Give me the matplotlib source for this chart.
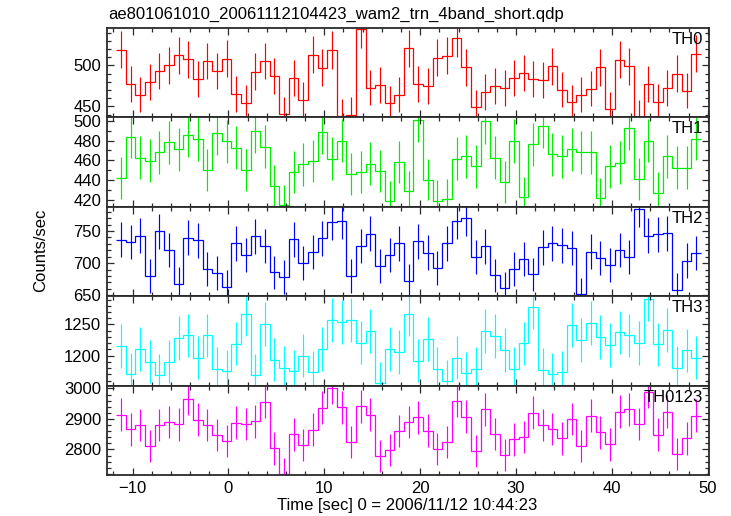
"""Stacked WAM light curves (TH0..TH3 and summed band), QDP-style."""
import matplotlib

matplotlib.use("Agg")
import matplotlib.pyplot as plt
import numpy as np
from matplotlib.ticker import MultipleLocator

TITLE = "ae801061010_20061112104423_wam2_trn_4band_short.qdp"
XLABEL = "Time [sec] 0 = 2006/11/12 10:44:23"
YLABEL = "Counts/sec"

# 1 s bins, first bin starts at t = -11.7 s
BIN_START = -11.7
BIN_WIDTH = 1.0

TH0 = [519.2, 477.5, 464.2, 479.6, 493.3, 500.0, 512.5, 507.5, 483.8, 505.4, 493.3,
       508.3, 465.0, 454.2, 492.5, 505.4, 487.5, 440.8, 484.6, 458.3, 512.9, 497.1,
       518.8, 438.3, 440.0, 544.2, 472.9, 475.8, 453.8, 464.2, 520.8,
       477.5, 475.0, 509.2, 511.7, 533.3, 497.5, 448.8, 467.5, 475.0, 472.5, 484.2,
       490.8, 483.3, 481.7, 498.8, 470.4, 455.0, 464.2, 471.7, 497.5, 446.7, 506.7,
       498.8, 437.1, 477.5, 455.8, 472.5, 490.0, 469.2, 514.2]
TH1 = [442.7, 484.0, 462.7, 459.7, 468.3, 478.0, 471.3, 485.7, 481.7, 450.3, 488.0,
       479.0, 472.7, 450.3, 489.3, 473.7, 434.7, 415.3, 448.7, 456.0, 459.3, 488.3,
       461.7, 480.0, 446.0, 448.7, 456.7, 449.7, 419.0, 458.3, 429.0,
       500.7, 440.7, 419.3, 420.7, 461.7, 464.0, 454.0, 499.3, 462.7, 438.0, 479.3,
       422.7, 476.0, 494.7, 466.0, 464.0, 471.3, 468.3, 468.3, 421.7, 454.0, 457.7,
       492.7, 441.3, 480.0, 427.3, 464.0, 452.7, 452.7, 482.0]
TH2 = [736.1, 733.0, 742.3, 679.9, 749.5, 720.6, 668.0, 739.7, 735.6, 690.7, 685.0,
       662.9, 730.9, 712.4, 741.8, 726.8, 685.6, 678.4, 737.1, 700.0, 717.5, 738.7,
       763.4, 765.0, 679.9, 726.8, 745.9, 695.4, 712.4, 730.9, 672.7,
       734.0, 716.5, 692.8, 730.9, 766.0, 769.6, 709.3, 726.3, 680.9, 661.3, 690.7,
       706.2, 682.5, 724.7, 730.9, 727.8, 723.7, 651.5, 718.0, 708.2, 696.9, 720.6,
       709.3, 783.5, 742.3, 744.8, 746.4, 658.8, 704.1, 715.5]
TH3 = [1215.4, 1169.7, 1210.6, 1190.4, 1169.1, 1189.9, 1228.2, 1232.4, 1196.3, 1232.4,
       1178.7, 1174.5, 1219.1, 1266.5, 1168.1, 1251.1, 1193.6, 1180.3, 1175.5, 1199.5,
       1172.9, 1210.6, 1256.9, 1253.7, 1256.9, 1220.7, 1238.8, 1155.3, 1210.6, 1205.9,
       1266.5,
       1191.5, 1226.6, 1178.7, 1159.6, 1196.8, 1171.8, 1179.3, 1239.4, 1230.9, 1209.0,
       1178.7, 1219.7, 1278.2, 1177.1, 1170.2, 1172.9, 1248.9, 1225.0, 1251.6, 1230.3,
       1217.0, 1237.2, 1232.4, 1220.2, 1291.5, 1218.1, 1241.0, 1180.9, 1208.5, 1196.3]
TH0123 = [2913.2, 2865.9, 2880.2, 2812.1, 2880.2, 2890.1, 2882.4, 2965.9, 2897.8, 2880.2,
          2847.3, 2827.5, 2887.9, 2883.5, 2892.3, 2956.0, 2803.3, 2719.8, 2849.5, 2815.4,
          2864.8, 2936.3, 3002.2, 2938.5, 2824.2, 2941.8, 2914.3, 2779.1, 2797.8, 2860.4,
          2890.1,
          2905.5, 2861.5, 2802.2, 2824.2, 2959.3, 2906.6, 2794.5, 2931.9, 2850.5, 2782.4,
          2833.0, 2840.7, 2919.8, 2880.2, 2867.0, 2836.3, 2900.0, 2812.1, 2909.9, 2856.0,
          2816.5, 2923.1, 2931.9, 2883.5, 2989.0, 2848.4, 2923.1, 2785.7, 2836.3, 2909.9]

# label, values, colour, y limits, major tick step, minor tick step
PANELS = [
    ("TH0", TH0, "#ff0000", (436.6, 545.8), 50, 10),
    ("TH1", TH1, "#00ee00", (413.3, 503.3), 20, 10),
    ("TH2", TH2, "#0000ff", (648.5, 787.6), 50, 10),
    ("TH3", TH3, "#00ffff", (1151.6, 1295.2), 50, 10),
    ("TH0123", TH0123, "#ff00ff", (2715.4, 3008.8), 100, 20),
]

XLIM = (-12.7, 50.1)

FRAME = "#2a2a2a"

plt.rcParams["font.family"] = ["Liberation Sans", "DejaVu Sans"]
plt.rcParams["font.size"] = 12

fig = plt.figure(figsize=(7.31, 5.16), dpi=100)
gs = fig.add_gridspec(len(PANELS), 1, left=0.146, right=0.9695, top=0.946, bottom=0.079, hspace=0)

axes = []
for i, (label, values, color, ylim, major, minor) in enumerate(PANELS):
    ax = fig.add_subplot(gs[i], sharex=axes[0] if axes else None)
    axes.append(ax)
    vals = np.array(values)
    edges = BIN_START + BIN_WIDTH * np.arange(len(vals) + 1)
    centers = 0.5 * (edges[:-1] + edges[1:])
    # Poisson errors for 1 s bins
    err = np.sqrt(vals * BIN_WIDTH) / BIN_WIDTH

    ax.stairs(vals, edges, baseline=None, color=color, linewidth=0.9)
    ax.errorbar(centers, vals, yerr=err, fmt="none", ecolor=color, elinewidth=0.85, capsize=0)

    ax.set_xlim(*XLIM)
    ax.set_ylim(*ylim)
    ax.yaxis.set_major_locator(MultipleLocator(major))
    ax.yaxis.set_minor_locator(MultipleLocator(minor))
    ax.xaxis.set_major_locator(MultipleLocator(10))
    ax.xaxis.set_minor_locator(MultipleLocator(2))
    ax.tick_params(which="both", direction="in", top=True, right=True, color=FRAME, width=0.9)
    ax.tick_params(which="major", length=5, pad=4)
    ax.tick_params(which="minor", length=3)
    for spine in ax.spines.values():
        spine.set_color(FRAME)
        spine.set_linewidth(1.3)
    if i < len(PANELS) - 1:
        ax.tick_params(labelbottom=False)

    ax.text(0.991, 0.955, label, transform=ax.transAxes, ha="right", va="top", fontsize=12)

fig.text(0.1475, 0.973, TITLE, ha="left", va="center", fontsize=12)
fig.text(0.557, 0.021, XLABEL, ha="center", va="center", fontsize=12)
fig.text(0.055, 0.514, YLABEL, ha="center", va="center", rotation=90, fontsize=12)

fig.savefig("out.png", dpi=100)
